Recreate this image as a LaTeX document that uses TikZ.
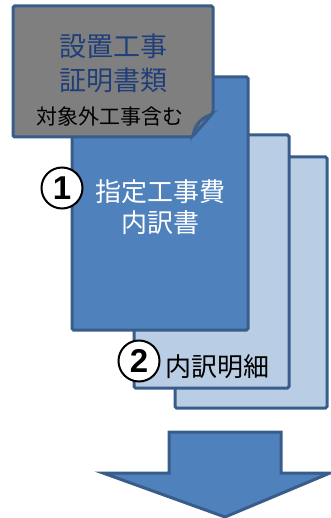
\documentclass[tikz,border=0pt]{standalone}
\usepackage{fontspec}
\newfontfamily\cjk{Noto Sans CJK JP}
\newfontfamily\numfont{Liberation Sans}
\definecolor{bord}{HTML}{385D8A}
\definecolor{mainblue}{HTML}{4F81BD}
\definecolor{lightblue}{HTML}{B9CDE5}
\definecolor{notegrey}{HTML}{7F7F7F}
\definecolor{darkblue}{HTML}{1F3F7A}
\begin{document}
\begin{tikzpicture}[x=1pt,y=-1pt,
  page/.style={draw=bord,line width=3pt,rounded corners=1.5pt},
  numcirc/.style={circle,draw=black,line width=2pt,fill=white,minimum size=41pt,inner sep=0pt,font=\numfont\bfseries\fontsize{33}{33}\selectfont},
  lbl/.style={inner sep=0pt,align=center}]
\useasboundingbox (0,0) rectangle (331,518);
% back pages
\draw[page,fill=lightblue] (175,157) rectangle (327,408);
\draw[page,fill=lightblue] (134,135) rectangle (289,388);
% main page
\draw[page,fill=mainblue] (72,77) rectangle (248,330);
% grey note with folded corner
\draw[page,fill=notegrey] (13,6) -- (213,6) -- (213,113) -- (192,137) -- (13,137) -- cycle;
\draw[draw=bord,line width=1.5pt,fill=black!55] (192,137) .. controls (194,127) and (196,119) .. (213,113) -- (200,122) -- cycle;
% texts
\node[lbl,text=darkblue,font=\cjk\fontsize{27}{34}\selectfont] (t1) at (113,63) {設置工事\\証明書類};
\node[lbl,text=black,font=\cjk\fontsize{21}{21}\selectfont] (t2) at (110,117) {対象外工事含む};
\node[lbl,text=white,font=\cjk\fontsize{26}{31}\selectfont] (t3) at (160,207) {指定工事費\\内訳書};
\node[lbl,text=black,font=\cjk\fontsize{26}{26}\selectfont] (t4) at (217,367) {内訳明細};
\node[numcirc] (c1) at (62,188) {1};
\node[numcirc] (c2) at (139,361) {2};
% down arrow
\draw[draw=bord,line width=3pt,fill=mainblue,line join=miter] (169,432) -- (281,432) -- (281,473) -- (330,473) -- (225,517) -- (103,473) -- (169,473) -- cycle;
\end{tikzpicture}
\end{document}
